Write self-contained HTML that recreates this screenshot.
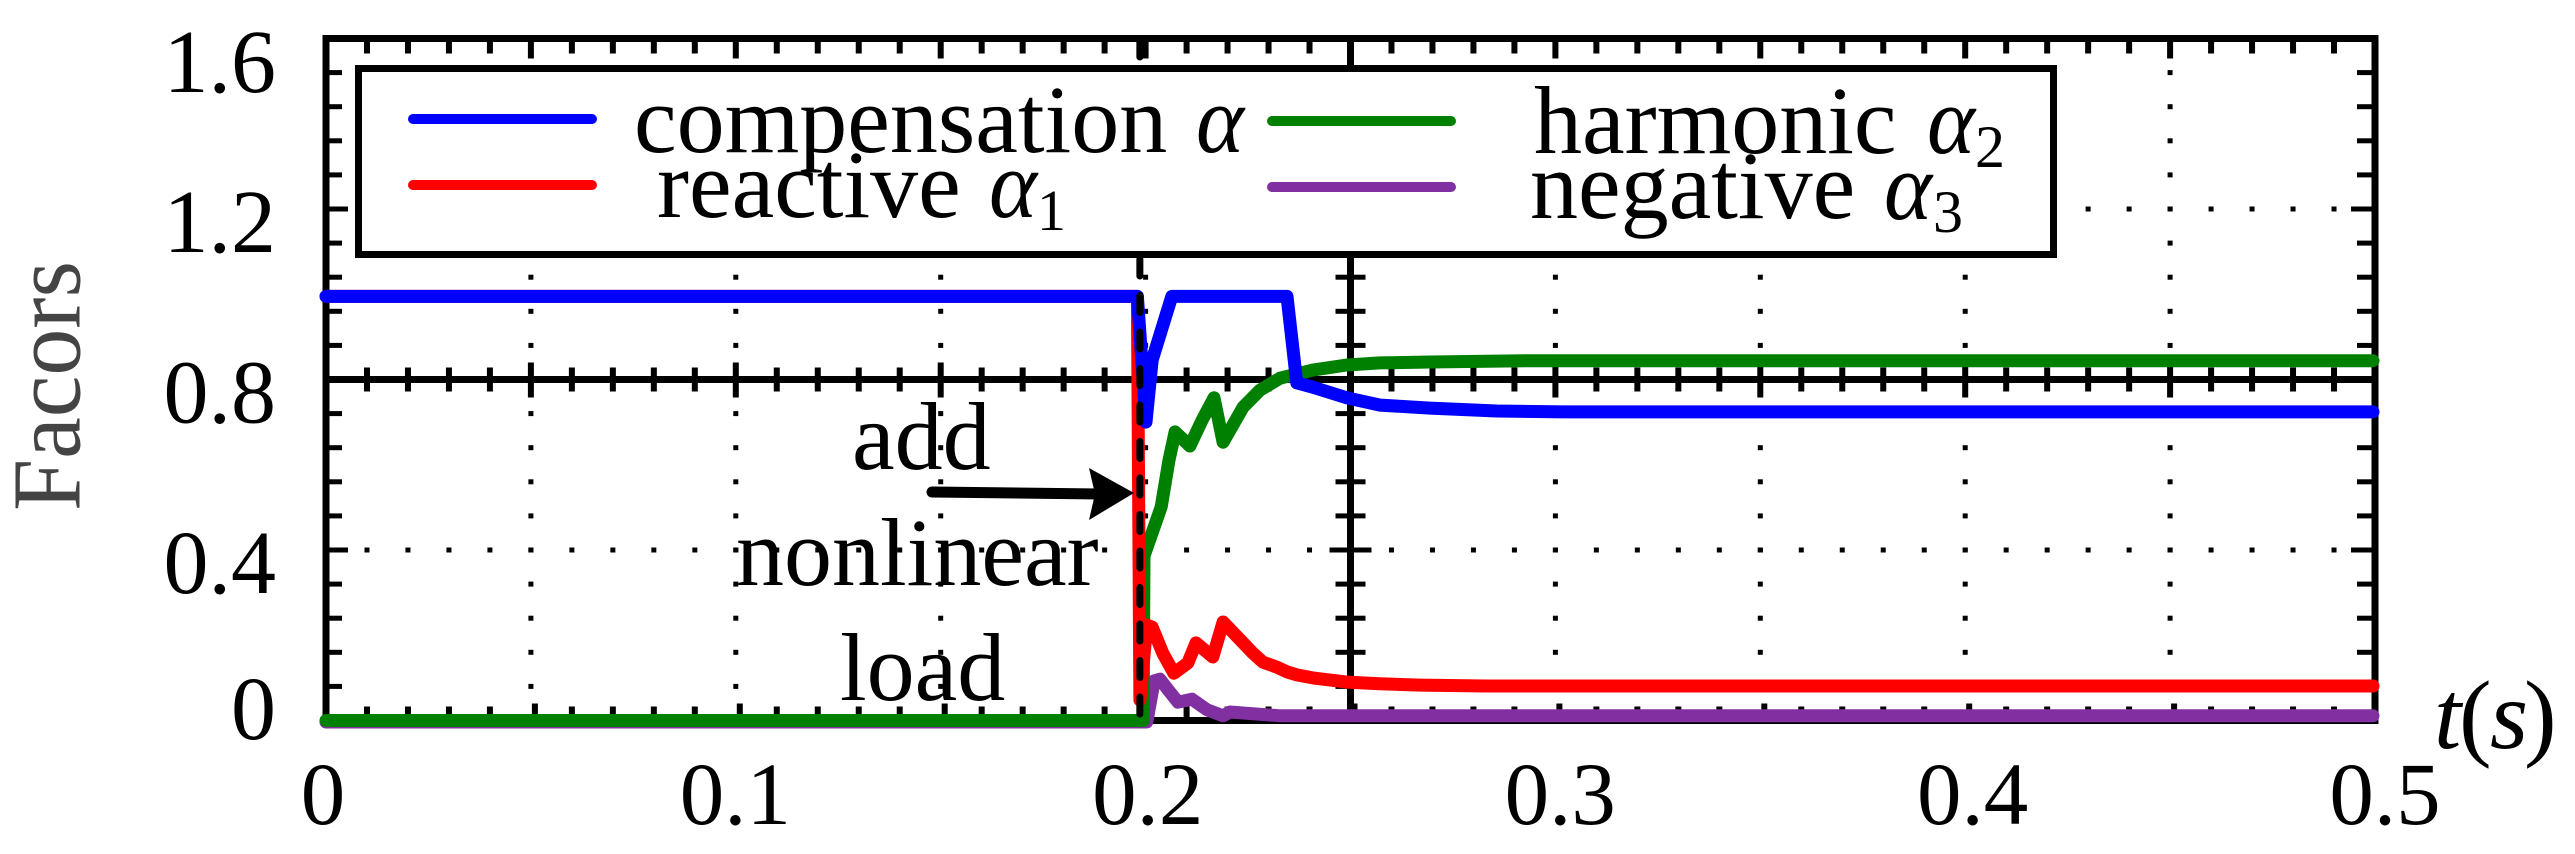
<!DOCTYPE html>
<html lang="en">
<head>
<meta charset="utf-8">
<title>Facors vs t(s)</title>
<style>
html,body{margin:0;padding:0;background:#fff;width:2575px;height:854px;overflow:hidden}
svg{display:block}
text{font-family:"Liberation Serif",serif;fill:#000}
</style>
</head>
<body>
<svg id="chart" xmlns="http://www.w3.org/2000/svg" width="2575" height="854" viewBox="0 0 2575 854">
  <rect x="0" y="0" width="2575" height="854" fill="#fff"/>
  <g id="grid"></g>
  <g id="axes"></g>
  <g id="tick-labels"></g>
  <g id="series"></g>
  <g id="event"></g>

  <text transform="translate(79.5,511) rotate(-90)" font-size="98" textLength="250" lengthAdjust="spacingAndGlyphs" style="fill:#444">Facors</text>
  <text y="748" font-size="98"><tspan x="2434" font-style="italic">t</tspan><tspan x="2459">(</tspan><tspan x="2490" font-style="italic">s</tspan><tspan x="2524">)</tspan></text>

  <g>
    <rect x="358.5" y="68.5" width="1695" height="186" fill="#fff" stroke="#000" stroke-width="7"/>
    <line x1="413" y1="119" x2="592" y2="119" stroke="#0000ff" stroke-width="10" stroke-linecap="round"/>
    <line x1="413" y1="185" x2="592" y2="185" stroke="#ff0000" stroke-width="10" stroke-linecap="round"/>
    <line x1="1272" y1="121" x2="1451" y2="121" stroke="#008000" stroke-width="10" stroke-linecap="round"/>
    <line x1="1272" y1="187" x2="1451" y2="187" stroke="#8030a0" stroke-width="10" stroke-linecap="round"/>
    <text x="634" y="152" font-size="96">compensation</text>
    <text x="1196" y="152" font-size="96" font-style="italic" textLength="48" lengthAdjust="spacingAndGlyphs">α</text>
    <text x="657" y="217" font-size="96">reactive</text>
    <text x="989" y="217" font-size="96" font-style="italic" textLength="48" lengthAdjust="spacingAndGlyphs">α</text>
    <text x="1037" y="230" font-size="58">1</text>
    <text x="1534" y="153" font-size="96">harmonic</text>
    <text x="1927" y="153" font-size="96" font-style="italic" textLength="48" lengthAdjust="spacingAndGlyphs">α</text>
    <text x="1975" y="167" font-size="60">2</text>
    <text x="1530" y="218" font-size="96">negative</text>
    <text x="1884" y="219" font-size="96" font-style="italic" textLength="48" lengthAdjust="spacingAndGlyphs">α</text>
    <text x="1933" y="232" font-size="60">3</text>
  </g>

  <g>
    <text x="852" y="469" font-size="96">add</text>
    <text x="736" y="585" font-size="96">nonlinear</text>
    <text x="840" y="700" font-size="96">load</text>
    <line x1="932" y1="492" x2="1100" y2="494" stroke="#000" stroke-width="11" stroke-linecap="round"/>
    <polygon points="1089,468 1134,493 1089,520 1095,494" fill="#000"/>
  </g>
</svg>

<script>
const xTickValues = [0, 0.1, 0.2, 0.3, 0.4, 0.5];
const xTickLabels = ["0", "0.1", "0.2", "0.3", "0.4", "0.5"];
const yTickValues = [0, 0.4, 0.8, 1.2, 1.6];
const yTickLabels = ["0", "0.4", "0.8", "1.2", "1.6"];

const eventTime = 0.1986;

const purpleTimes = [0, 0.2003, 0.2021, 0.2035, 0.2055, 0.2079, 0.2113, 0.2150, 0.2189, 0.2206, 0.2328, 0.4995];
const purpleValues = [-0.0035, -0.0035, 0.093, 0.097, 0.072, 0.043, 0.05, 0.025, 0.011, 0.02, 0.011, 0.011];

const greenTimes = [0, 0.1994, 0.1996, 0.2038, 0.2057, 0.2072, 0.2108, 0.2138, 0.2167, 0.2189, 0.2238, 0.2279, 0.2328, 0.2408, 0.2491, 0.2572, 0.2694, 0.2938, 0.4995];
const greenValues = [0, 0, 0.386, 0.501, 0.611, 0.677, 0.644, 0.705, 0.757, 0.653, 0.735, 0.775, 0.803, 0.822, 0.834, 0.839, 0.841, 0.844, 0.844];

const redTimes = [0, 0.198, 0.1986, 0.2003, 0.2016, 0.2042, 0.2069, 0.2103, 0.2123, 0.2164, 0.2189, 0.2238, 0.2262, 0.2286, 0.2321, 0.2345, 0.2369, 0.2408, 0.2491, 0.2572, 0.2670, 0.2831, 0.4995];
const redValues = [0.995, 0.995, 0.048, 0.224, 0.219, 0.158, 0.111, 0.135, 0.182, 0.149, 0.231, 0.182, 0.158, 0.137, 0.125, 0.114, 0.107, 0.100, 0.090, 0.086, 0.083, 0.081, 0.081];

const blueTimes = [0, 0.198, 0.2001, 0.2016, 0.2064, 0.2345, 0.2369, 0.2408, 0.2491, 0.2572, 0.2694, 0.2857, 0.3018, 0.4995];
const blueValues = [0.995, 0.995, 0.70, 0.846, 0.995, 0.995, 0.792, 0.782, 0.757, 0.740, 0.733, 0.726, 0.724, 0.724];

const NS = "http://www.w3.org/2000/svg";
const xScale = t => 326 + 4098 * t;
const yScale = v => 720.5 - 426.25 * v;
const xLabelPos = t => 323 + 4124 * t;
const yLabelBase = v => Math.min(739, Math.max(92, yScale(v) + 43));

const gridG = document.getElementById("grid");
const axesG = document.getElementById("axes");
const labelG = document.getElementById("tick-labels");
const seriesG = document.getElementById("series");
const eventG = document.getElementById("event");

function rect(parent, x, y, w, h) {
  const el = document.createElementNS(NS, "rect");
  el.setAttribute("x", x);
  el.setAttribute("y", y);
  el.setAttribute("width", w);
  el.setAttribute("height", h);
  el.setAttribute("fill", "#000");
  parent.appendChild(el);
  return el;
}

function drawFrame() {
  const L = xScale(0), R = xScale(0.5), T = yScale(1.6), B = yScale(0), C = xScale(0.25), M = yScale(0.8);
  const a = rect(axesG, L - 3.5, T - 3.5, R - L + 7, 7);
  
  
  const b = rect(axesG, L - 3.5, B - 3.5, R - L + 7, 7);
  
  
  const c = rect(axesG, L - 3.5, T - 3.5, 7, B - T + 7);
  
  
  const d = rect(axesG, R - 3.5, T - 3.5, 7, B - T + 7);
  
  
  const e = rect(axesG, L, M - 3.5, R - L, 7);
  
  
  const f = rect(axesG, C - 3.5, T, 7, B - T);
  
  
}

function drawXTicks() {
  const T = yScale(1.6), B = yScale(0), M = yScale(0.8);
  for (let k = 1; k < 50; k++) {
    const t = k / 100, px = xScale(t), major = k % 5 === 0;
    const topTick = rect(axesG, px - 3, T, 6, major ? 20 : 15);
    
    
    const midTick = rect(axesG, px - 3, M - (major ? 17 : 12), 6, major ? 35 : 24);
    
    
    const botTick = rect(axesG, px - 3 + (major ? 4 : 0), B - (major ? 17 : 14), 6, major ? 17 : 14);
    
    
  }
}

function drawYTicks() {
  const L = xScale(0), R = xScale(0.5), C = xScale(0.25);
  for (let k = 1; k < 20; k++) {
    const v = k * 0.08, py = yScale(v), major = k % 5 === 0;
    const leftTick = rect(axesG, L, py - 2.5, major ? 22 : 16, 5);
    
    
    const rightTick = rect(axesG, R - (major ? 24 : 18), py - 2.5, major ? 24 : 18, 5);
    
    
    const midTick = rect(axesG, C - (major ? 21 : 15), py - 2.5, major ? 42 : 30, 5);
    
    
  }
}

function drawGrid() {
  for (let j = 1; j < 10; j++) {
    if (j === 5) continue;
    for (let k = 1; k < 20; k++) {
      if (k === 10) continue;
      const dot = rect(gridG, xScale(j * 0.05) - 2.5, yScale(k * 0.08) - 2.5, 5, 5);
      
      
    }
  }
  [0.4, 1.2].forEach(v => {
    for (let k = 1; k < 50; k++) {
      const dot = rect(gridG, xScale(k / 100) - 2.5, yScale(v) - 2.5, 5, 5);
      
      
    }
  });
}

function drawLabels() {
  xTickValues.forEach((t, i) => {
    const el = document.createElementNS(NS, "text");
    el.setAttribute("x", xLabelPos(t));
    el.setAttribute("y", 824);
    el.setAttribute("font-size", 89);
    el.setAttribute("text-anchor", "middle");
    el.textContent = xTickLabels[i];
    
    
    labelG.appendChild(el);
  });
  yTickValues.forEach((v, i) => {
    const el = document.createElementNS(NS, "text");
    el.setAttribute("x", 276);
    el.setAttribute("y", yLabelBase(v));
    el.setAttribute("font-size", 90);
    el.setAttribute("text-anchor", "end");
    el.textContent = yTickLabels[i];
    
    
    labelG.appendChild(el);
  });
}

function linePath(times, values) {
  return times.map((t, i) => (i ? "L" : "M") + xScale(t).toFixed(1) + " " + yScale(values[i]).toFixed(1)).join(" ");
}

function drawSeries(times, values, color) {
  const el = document.createElementNS(NS, "path");
  el.setAttribute("d", linePath(times, values));
  el.setAttribute("fill", "none");
  el.setAttribute("stroke", color);
  el.setAttribute("stroke-width", 13);
  el.setAttribute("stroke-linejoin", "round");
  el.setAttribute("stroke-linecap", "round");
  seriesG.appendChild(el);
  return el;
}

drawGrid();
drawFrame();
drawXTicks();
drawYTicks();
drawLabels();

const purpleLine = drawSeries(purpleTimes, purpleValues, "#8030a0");


const greenLine = drawSeries(greenTimes, greenValues, "#008000");


const redLine = drawSeries(redTimes, redValues, "#ff0000");


const blueLine = drawSeries(blueTimes, blueValues, "#0000ff");



const eventLine = document.createElementNS(NS, "line");
eventLine.setAttribute("x1", xScale(eventTime));
eventLine.setAttribute("x2", xScale(eventTime));
eventLine.setAttribute("y1", yScale(1.6) + 1.5);
eventLine.setAttribute("y2", yScale(0));
eventLine.setAttribute("stroke", "#000");
eventLine.setAttribute("stroke-width", 7);
eventLine.setAttribute("stroke-linecap", "round");
eventLine.setAttribute("stroke-dasharray", "17 19.5");


eventG.appendChild(eventLine);
</script>
</body>
</html>
